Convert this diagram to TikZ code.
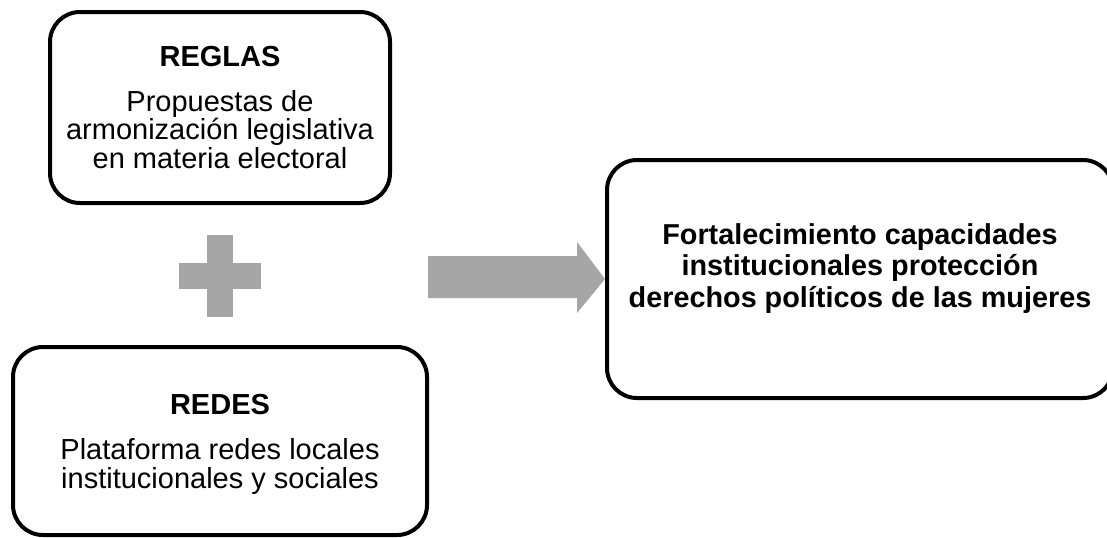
\documentclass[tikz,border=0pt]{standalone}
\usepackage{fontspec}
\setmainfont{Liberation Sans}
\usetikzlibrary{positioning}

\definecolor{plusgray}{HTML}{A6A6A6}

\begin{document}
\begin{tikzpicture}[
    x=0.5pt, y=-0.5pt,
    % Boxes
    caja/.style={rectangle, rounded corners=15pt, draw=black, line width=2pt, align=center, fill=white},
    txt/.style={font=\fontsize{14.5}{14.4}\selectfont},
    titulo/.style={font=\fontsize{14.4}{15.75}\selectfont\bfseries},
    % Shapes
    signo/.style={fill=plusgray, draw=none}
]
\useasboundingbox (0,0) rectangle (1107,537);

% Nodes
\node[caja, minimum width=170pt, minimum height=95.5pt, txt] (reglas) at (220,107.5) {
    \textbf{REGLAS}\\[8pt]
    Propuestas de\\
    armonización legislativa\\
    en materia electoral
};
\node[caja, minimum width=207pt, minimum height=94pt, txt] (redes) at (220,441) {
    \mbox{}\\[-1pt]
    \textbf{REDES}\\[8pt]
    Plataforma redes locales\\
    institucionales y sociales
};
\node[caja, minimum width=253pt, minimum height=119pt, titulo] (final) at (860,279) {
    Fortalecimiento capacidades\\
    institucionales protección\\
    derechos políticos de las mujeres\\[-2pt]
    \mbox{}
};

% Plus sign
\fill[signo] (207,235) rectangle (233,317);
\fill[signo] (179,263) rectangle (261,289);

% Block arrow to the result
\fill[signo] (428,256) -- (577,256) -- (577,242) -- (final.west) -- (577,313) -- (577,298) -- (428,298) -- cycle;

\end{tikzpicture}
\end{document}
